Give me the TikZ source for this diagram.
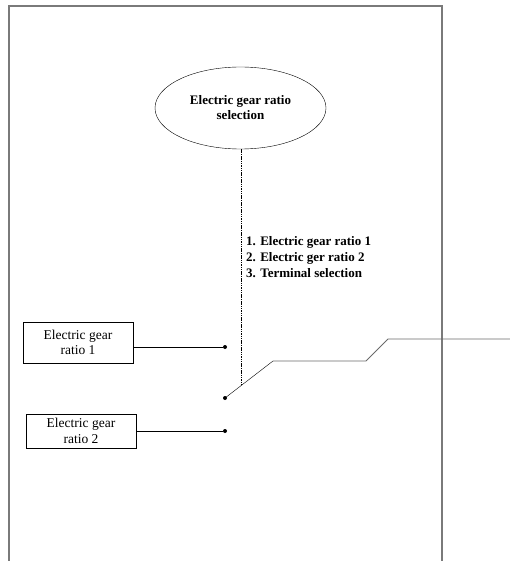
\documentclass[tikz,border=0pt]{standalone}
\usepackage{fontspec}
\setmainfont{Liberation Serif}
\usepackage{tikz}
\usetikzlibrary{shapes.geometric}
\definecolor{frame}{HTML}{7A7A7A}
\definecolor{wire}{HTML}{6A6A6A}

\begin{document}
\begin{tikzpicture}[x=1pt,y=-1pt,every node/.style={font=\fontsize{13.5}{15.5}\selectfont},
      ratiobox/.style={draw,minimum width=110pt,align=center,inner sep=0pt},
      selector/.style={draw,ellipse,minimum width=171pt,minimum height=82pt,inner sep=0pt,align=center,font=\fontsize{13}{15}\selectfont\bfseries},
      contact/.style={circle,fill,inner sep=0pt,minimum size=4pt},
      wireline/.style={wire,line width=0.8pt}]
      \useasboundingbox (0,0) rectangle (510,561);
      \draw[frame,line width=1.4pt] (9,561) -- (9,6) -- (442,6) -- (442,561);
      \node[selector] (select) at (240.5,108) {Electric gear ratio\\selection};
      \node[anchor=north west,align=left,inner sep=0pt,font=\fontsize{13}{16}\selectfont\bfseries] (modes) at (246,236)
        {1. Electric gear ratio 1\\2. Electric ger ratio 2\\3. Terminal selection};
      \node[ratiobox,minimum height=41pt] (ratio1) at (78,342.5) {Electric gear\\ratio 1};
      \node[ratiobox,minimum height=34pt] (ratio2) at (81,431) {Electric gear\\ratio 2};
      \node[contact] (dot1) at (225,347) {};
      \node[contact] (dot2) at (225,431) {};
      \node[contact] (pivot) at (225,398) {};
      \coordinate (lever) at (273,361);
      \coordinate (tap) at (241,385.7);
      \coordinate (bendA) at (366,361);
      \coordinate (bendB) at (388,339);
      \coordinate (out) at (510,339);
      \draw (dot1) -- (dot1 -| ratio1.east);
      \draw (dot2) -- (dot2 -| ratio2.east);
      \draw (pivot.center) -- (lever);
      \draw[wireline] (lever) -- (bendA) -- (bendB) -- (out);
      \draw[dash pattern=on 1.5pt off 0.8pt,thick] (select.south -| tap) -- (tap);
    \end{tikzpicture}
\end{document}
